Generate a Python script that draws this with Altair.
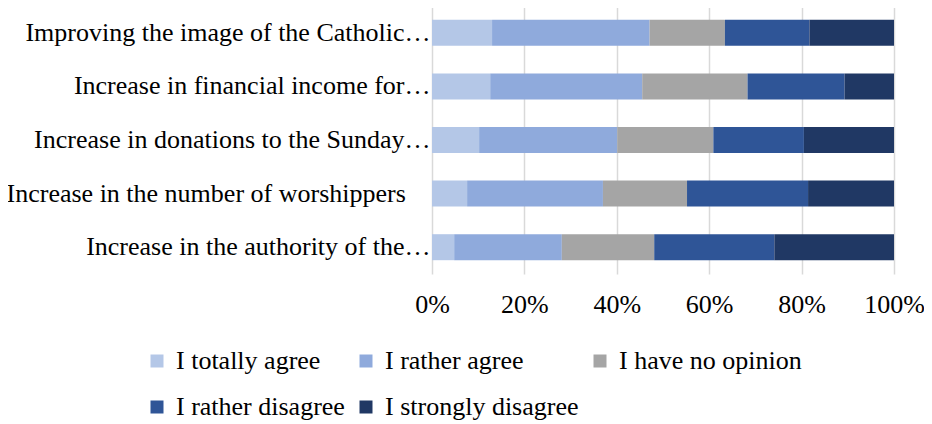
import altair as alt
import pandas as pd

categories = [
    "Improving the image of the Catholic…",
    "Increase in financial income for…",
    "Increase in donations to the Sunday…",
    "Increase in the number of worshippers\u00a0\u00a0\u00a0\u2009\u200b",
    "Increase in the authority of the…",
]
responses = [
    "I totally agree",
    "I rather agree",
    "I have no opinion",
    "I rather disagree",
    "I strongly disagree",
]
colors = ["#B4C7E7", "#8FAADC", "#A5A5A5", "#2F5597", "#203864"]

totally_agree = [13.0, 12.6, 10.2, 7.6, 4.8]
rather_agree = [34.1, 32.9, 29.9, 29.4, 23.3]
no_opinion = [16.3, 22.8, 20.8, 18.2, 20.0]
rather_disagree = [18.3, 21.0, 19.6, 26.2, 26.0]
strongly_disagree = [18.3, 10.7, 19.5, 18.6, 25.9]

series = [totally_agree, rather_agree, no_opinion, rather_disagree, strongly_disagree]

rows = []
for ri, (resp, vals) in enumerate(zip(responses, series)):
    for cat, v in zip(categories, vals):
        rows.append({"category": cat, "response": resp, "value": v, "order": ri})
df = pd.DataFrame(rows)

FONT = "Liberation Serif"

chart = (
    alt.Chart(df)
    .mark_bar()
    .encode(
        y=alt.Y(
            "category:N",
            sort=categories,
            title=None,
            scale=alt.Scale(paddingInner=0.515, paddingOuter=0.2575),
            axis=alt.Axis(
                labelFont=FONT,
                labelFontSize=26,
                labelColor="#000000",
                labelLimit=0,
                labelPadding=2,
                domain=False,
                ticks=False,
                grid=False,
            ),
        ),
        x=alt.X(
            "value:Q",
            stack="normalize",
            title=None,
            scale=alt.Scale(domain=[0, 1], nice=False),
            axis=alt.Axis(
                values=[0, 0.2, 0.4, 0.6, 0.8, 1.0],
                format=".0%",
                labelFont=FONT,
                labelFontSize=26,
                labelColor="#000000",
                labelPadding=17,
                labelFlush=False,
                labelOverlap=False,
                domain=False,
                ticks=False,
                grid=True,
                gridColor="#D9D9D9",
                gridWidth=1.5,
            ),
        ),
        color=alt.Color(
            "response:N",
            sort=responses,
            scale=alt.Scale(domain=responses, range=colors),
            legend=alt.Legend(
                title=None,
                orient="none",
                direction="horizontal",
                columns=3,
                legendX=-288,
                legendY=342,
                padding=0,
                gridAlign="each",
                columnPadding=8,
                rowPadding=20,
                symbolType="square",
                symbolSize=169,
                symbolStrokeWidth=0,
                labelOffset=6,
                labelFont=FONT,
                labelFontSize=26,
                labelColor="#000000",
                labelLimit=0,
            ),
        ),
        order=alt.Order("order:Q", sort="ascending"),
    )
    .properties(
        width=462,
        height=268,
        autosize=alt.AutoSizeParams(type="none"),
        padding={"left": 424, "top": -2, "right": 30, "bottom": 150},
    )
    .configure_view(stroke=None)
)

chart.save("out.html", embed_options={"renderer": "svg", "actions": False})
